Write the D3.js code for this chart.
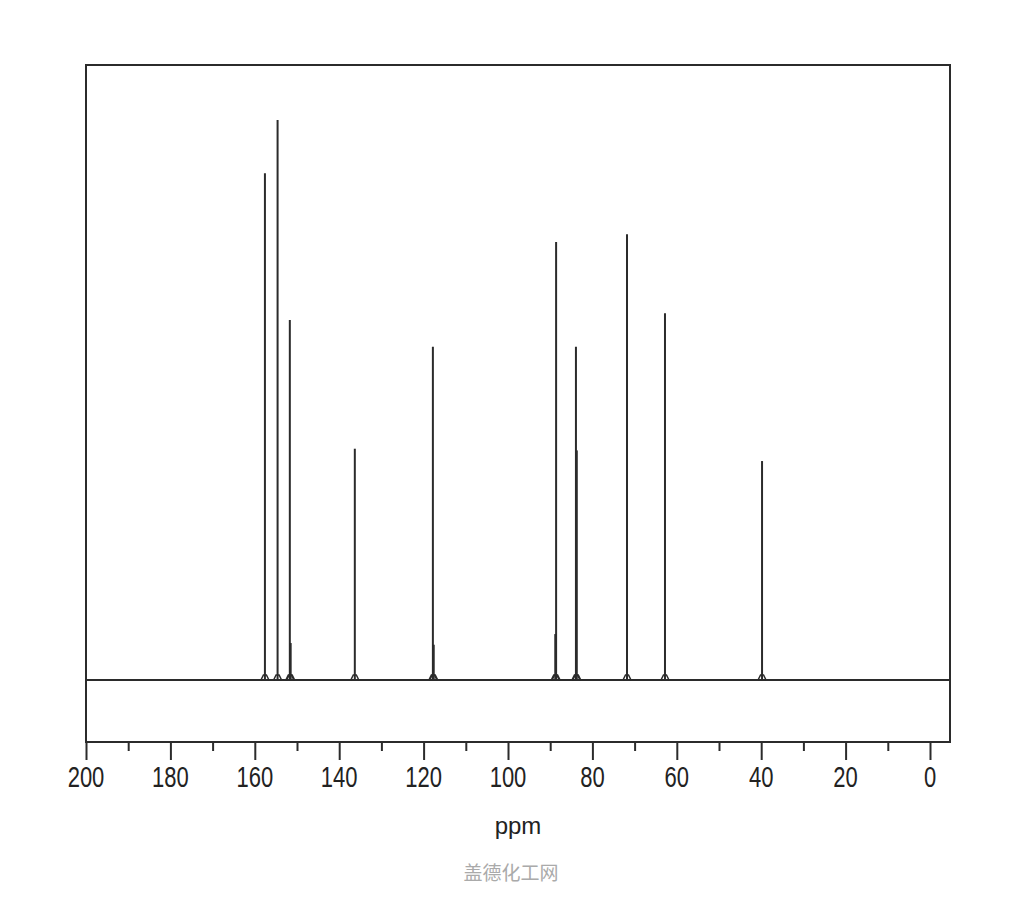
<!DOCTYPE html>
<html>
<head>
<meta charset="utf-8">
<script src="https://cdn.jsdelivr.net/npm/d3@7"></script>
<style>
  body { margin: 0; background: #fff; }
  svg { display: block; }
</style>
</head>
<body>
<svg id="chart" width="1024" height="900"></svg>
<script>
// peak positions (ppm) and relative heights (tallest = 100)
var peakShift = [157.6, 154.6, 151.7, 151.5, 136.3, 117.8, 117.6, 88.6, 88.8, 83.9, 83.7, 71.8, 62.8, 39.8];
var peakHeight = [90.5, 100, 64.3, 6.6, 41.3, 59.5, 6.3, 78.2, 8.2, 59.5, 41.0, 79.6, 65.5, 39.1];
var majorTicks = [200, 180, 160, 140, 120, 100, 80, 60, 40, 20, 0];
var minorTicks = [190, 170, 150, 130, 110, 90, 70, 50, 30, 10];

var svg = d3.select('#chart'),
	boxLeft = 86, boxRight = 950, boxTop = 65, boxBottom = 742, baseline = 680;

var x = d3.scaleLinear().domain([200, 0]).range([86, 930]);
var y = d3.scaleLinear().domain([0, 100]).range([baseline, 120]);

var ink = '#2b2b2b';

// frame
svg.append('rect')
	.attr('x', boxLeft).attr('y', boxTop)
	.attr('width', boxRight - boxLeft).attr('height', boxBottom - boxTop)
	.attr('fill', 'none').attr('stroke', ink).attr('stroke-width', 2);

// baseline
svg.append('line')
	.attr('x1', boxLeft).attr('x2', boxRight)
	.attr('y1', y(0)).attr('y2', y(0))
	.attr('stroke', ink).attr('stroke-width', 2);

var peaks = peakShift.map(function(s, i) { return { ppm: s, h: peakHeight[i] }; });

var g = svg.append('g');

// small foot at base of each peak
g.selectAll('path.foot').data(peaks).enter().append('path')
	.attr('class', 'foot')
	.attr('d', function(d) {
		var cx = x(d.ppm);
		return 'M' + (cx - 4) + ',' + y(0) + 'L' + (cx - 1.5) + ',' + (y(0) - 5) +
			'L' + (cx + 1.5) + ',' + (y(0) - 5) + 'L' + (cx + 4) + ',' + y(0);
	})
	.attr('fill', 'none').attr('stroke', ink).attr('stroke-width', 1.5);

g.selectAll('line.peak').data(peaks).enter().append('line')
	.attr('class', 'peak')
	.attr('x1', function(d) { return x(d.ppm); })
	.attr('x2', function(d) { return x(d.ppm); })
	.attr('y1', y(0))
	.attr('y2', function(d) { return y(d.h); })
	.attr('stroke', ink).attr('stroke-width', 2);

// axis ticks
var minorAxis = d3.axisBottom(x).tickValues(minorTicks).tickSize(9).tickFormat('');
var majorAxis = d3.axisBottom(x).tickValues(majorTicks).tickSize(18).tickFormat('');

[minorAxis, majorAxis].forEach(function(ax) {
	var a = svg.append('g').attr('transform', 'translate(0,' + boxBottom + ')').call(ax);
	a.select('.domain').remove();
	a.selectAll('line').attr('stroke', ink).attr('stroke-width', 2);
});

svg.append('g').selectAll('text').data(majorTicks).enter().append('text')
	.attr('transform', function(d) { return 'translate(' + x(d) + ',787) scale(1,1.38)'; })
	.attr('text-anchor', 'middle')
	.attr('font-family', 'Liberation Sans, Arial, sans-serif')
	.attr('font-size', 22)
	.attr('fill', '#222')
	.text(function(d) { return d; });

svg.append('text')
	.attr('x', 518).attr('y', 834)
	.attr('text-anchor', 'middle')
	.attr('font-family', 'Liberation Sans, Arial, sans-serif')
	.attr('font-size', 24)
	.attr('fill', '#222')
	.text('ppm');

svg.append('text')
	.attr('x', 511).attr('y', 880)
	.attr('text-anchor', 'middle')
	.attr('font-family', 'Noto Sans CJK SC, sans-serif')
	.attr('font-size', 19)
	.attr('fill', '#aaa')
	.text('盖德化工网');
</script>
</body>
</html>
